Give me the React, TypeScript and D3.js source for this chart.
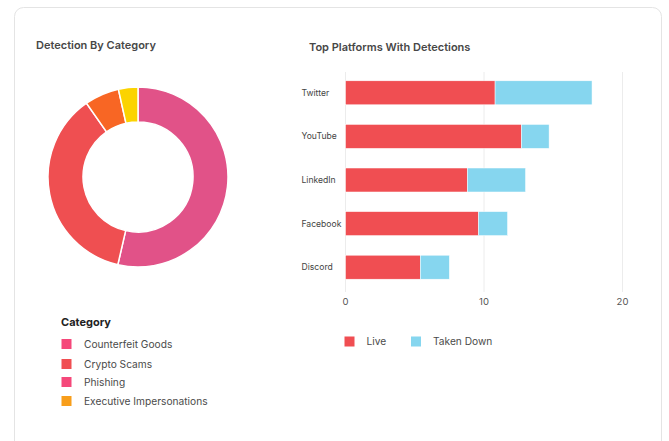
import React, { useEffect, useRef } from 'react';
import * as d3 from 'd3';

// donut data
const categories = ['Counterfeit Goods', 'Crypto Scams', 'Phishing', 'Executive Impersonations'];
const categoryValues = [53.6, 36.7, 6.2, 3.5];
const sliceColours = ['#e15288', '#ef4f51', '#f86624', '#fbd300'];
const legendColours = ['#f5487a', '#f04e52', '#f5487a', '#f89e1b'];

// bar data
const platforms = ['Twitter', 'YouTube', 'LinkedIn', 'Facebook', 'Discord'];
const liveValues = [10.8, 12.7, 8.8, 9.6, 5.4];
const takenDownValues = [7.0, 2.0, 4.2, 2.1, 2.1];
const seriesNames = ['Live', 'Taken Down'];
const seriesColours = ['#f04e52', '#86d6ef'];
const xTicks = [0, 10, 20];

const FONT = 'Inter, "Noto Sans", sans-serif';

const App = () => {
  const svgRef = useRef(null);

  useEffect(() => {
    const svg = d3.select(svgRef.current);
    svg.selectAll('*').remove();

    // card
    svg.append('rect')
      .attr('x', 14.5).attr('y', 7.5)
      .attr('width', 647).attr('height', 460)
      .attr('rx', 9)
      .attr('fill', '#fff')
      .attr('stroke', '#e4e4e4');

    // titles
    svg.append('text')
      .attr('x', 36).attr('y', 49)
      .attr('font-size', 11).attr('font-weight', 600)
      .attr('fill', '#474747')
      .text('Detection By Category');

    svg.append('text')
      .attr('x', 309).attr('y', 51)
      .attr('font-size', 11).attr('font-weight', 600)
      .attr('fill', '#474747')
      .text('Top Platforms With Detections');

    // donut
    const pie = d3.pie<number>().sort(null).value(d => d);
    const arc = d3.arc<d3.PieArcDatum<number>>().innerRadius(55).outerRadius(90);
    const donut = svg.append('g').attr('transform', 'translate(138,177)');
    donut.selectAll('path')
      .data(pie(categoryValues))
      .enter().append('path')
      .attr('d', arc)
      .attr('fill', (d, i) => sliceColours[i])
      .attr('stroke', '#fff')
      .attr('stroke-width', 1.5);

    // category legend
    svg.append('text')
      .attr('x', 61).attr('y', 326)
      .attr('font-size', 11).attr('font-weight', 700)
      .attr('fill', '#222')
      .text('Category');

    const rowY = [344, 364, 382, 401];
    const lg = svg.append('g');
    categories.forEach((c, i) => {
      lg.append('rect')
        .attr('x', 61.5).attr('y', rowY[i] - 5)
        .attr('width', 10).attr('height', 10)
        .attr('fill', legendColours[i]);
      lg.append('text')
        .attr('x', 84).attr('y', rowY[i])
        .attr('dy', '0.35em')
        .attr('font-size', 10.2)
        .attr('fill', '#4a4a4a')
        .text(c);
    });

    // stacked bars
    const x = d3.scaleLinear().domain([0, 20]).range([345.5, 622.5]);
    const y = d3.scaleBand().domain(platforms).range([71, 289])
      .paddingInner(0.45).paddingOuter(0.225);

    const grid = svg.append('g');
    xTicks.forEach(t => {
      grid.append('line')
        .attr('x1', x(t)).attr('x2', x(t))
        .attr('y1', 72).attr('y2', 292)
        .attr('stroke', '#ececec');
      grid.append('text')
        .attr('x', x(t)).attr('y', 302)
        .attr('dy', '0.35em')
        .attr('text-anchor', 'middle')
        .attr('font-size', 9.5)
        .attr('fill', '#555')
        .text(t);
    });

    const bars = svg.append('g');
    platforms.forEach((p, i) => {
      const y0 = y(p) as number;
      bars.append('rect')
        .attr('x', x(0)).attr('y', y0)
        .attr('width', x(liveValues[i]) - x(0))
        .attr('height', y.bandwidth())
        .attr('fill', seriesColours[0])
        .attr('stroke', '#fff').attr('stroke-width', 0.5);
      bars.append('rect')
        .attr('x', x(liveValues[i])).attr('y', y0)
        .attr('width', x(liveValues[i] + takenDownValues[i]) - x(liveValues[i]))
        .attr('height', y.bandwidth())
        .attr('fill', seriesColours[1])
        .attr('stroke', '#fff').attr('stroke-width', 0.5);
      bars.append('text')
        .attr('x', 301.5).attr('y', y0 + y.bandwidth() / 2)
        .attr('dy', '0.35em')
        .attr('font-size', 8.6)
        .attr('fill', '#444')
        .text(p);
    });

    // series legend
    const legX = [344.5, 411];
    seriesNames.forEach((s, i) => {
      svg.append('rect')
        .attr('x', legX[i]).attr('y', 336.5)
        .attr('width', 10).attr('height', 10)
        .attr('fill', seriesColours[i]);
      svg.append('text')
        .attr('x', legX[i] + 22).attr('y', 341.5)
        .attr('dy', '0.35em')
        .attr('font-size', 10.2)
        .attr('fill', '#4a4a4a')
        .text(s);
    });
  }, []);

  return (
    <svg
      ref={svgRef}
      width={669}
      height={441}
      style={{ position: 'absolute', left: 0, top: 0, fontFamily: FONT, background: '#fff' }}
    />
  );
};

export default App;
